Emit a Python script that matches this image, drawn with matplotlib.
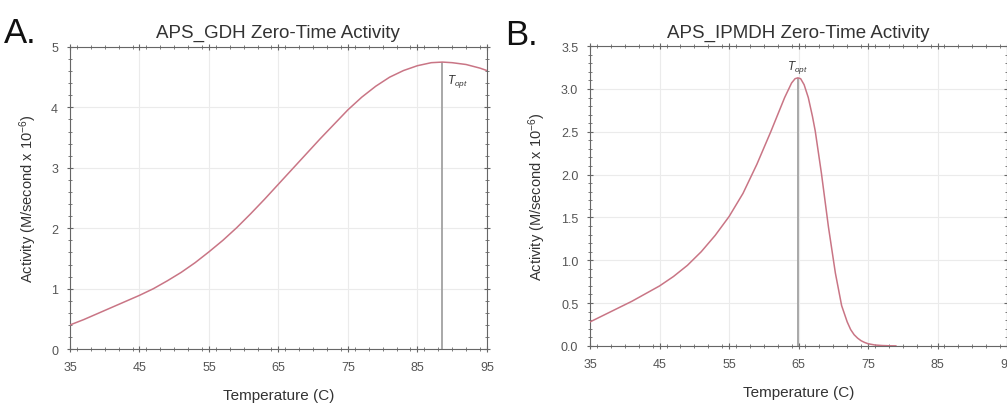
import matplotlib
matplotlib.use("Agg")
import matplotlib.pyplot as plt
from matplotlib.ticker import MultipleLocator

plt.rcParams["font.family"] = ["Liberation Sans", "DejaVu Sans"]
plt.rcParams["mathtext.fontset"] = "custom"
plt.rcParams["mathtext.it"] = "Liberation Sans:italic"
plt.rcParams["mathtext.rm"] = "Liberation Sans"

# values
temp_a = [35, 37, 39, 41, 43, 45, 47, 49, 51, 53, 55, 57, 59, 61, 63, 65, 67, 69,
          71, 73, 75, 77, 79, 81, 83, 85, 87, 88.6, 90, 92, 94, 95]
act_a = [0.40, 0.49, 0.59, 0.69, 0.79, 0.89, 1.00, 1.13, 1.27, 1.43, 1.61, 1.80,
         2.01, 2.24, 2.48, 2.73, 2.98, 3.23, 3.48, 3.72, 3.96, 4.17, 4.35, 4.50,
         4.61, 4.69, 4.74, 4.75, 4.74, 4.71, 4.65, 4.61]
topt_a = 88.6

temp_b = [35, 37, 39, 41, 43, 45, 47, 49, 51, 53, 55, 57, 59, 61, 63, 64, 64.5,
          64.9, 65.3, 65.8, 66.4, 67, 67.4, 68.3, 69.3, 70.3, 71.2, 72, 72.5, 73,
          73.5, 74, 74.5, 75, 76, 77, 78, 79]
act_b = [0.28, 0.36, 0.44, 0.52, 0.61, 0.70, 0.81, 0.94, 1.10, 1.29, 1.51, 1.78,
         2.12, 2.50, 2.90, 3.07, 3.12, 3.13, 3.12, 3.05, 2.90, 2.68, 2.51, 2.01,
         1.39, 0.85, 0.47, 0.28, 0.19, 0.13, 0.09, 0.06, 0.04, 0.025, 0.01, 0.004,
         0.001, 0.0]
topt_b = 64.9

xticks = [35, 45, 55, 65, 75, 85, 95]

curve_col = "#c97585"
line_col = "#a8a8a8"
text_col = "#333333"
spine_col = "#666666"

fig = plt.figure(figsize=(10.07, 4.10), dpi=100)
ax1 = fig.add_axes([0.0695, 0.146, 0.414, 0.737])
ax2 = fig.add_axes([0.586, 0.154, 0.414, 0.731])


def style(ax, ymax, ymajor, yminor, fmt):
    ax.set_xlim(35, 95)
    ax.set_ylim(0, ymax)
    ax.set_xticks(xticks)
    ax.xaxis.set_minor_locator(MultipleLocator(2))
    ax.yaxis.set_major_locator(MultipleLocator(ymajor))
    ax.yaxis.set_minor_locator(MultipleLocator(yminor))
    ax.yaxis.set_major_formatter(fmt)
    ax.grid(True, which="major", color="#ebebeb", linewidth=0.8)
    ax.set_axisbelow(True)
    for s in ax.spines.values():
        s.set_color(spine_col)
        s.set_linewidth(0.8)
    ax.tick_params(which="both", direction="inout", top=True, right=True,
                   colors=spine_col, labelcolor="#555555", labelsize=9)
    ax.tick_params(which="major", length=5, width=0.8, pad=6)
    ax.tick_params(which="minor", length=3, width=0.6)
    ax.set_xlabel("Temperature (C)", fontsize=11, color=text_col, labelpad=11)
    ax.set_ylabel(r"Activity (M/second x 10$^{-6}$)", fontsize=10.5,
                  color=text_col, labelpad=9)


# panel A
ax1.plot(temp_a, act_a, color=curve_col, linewidth=1.1, zorder=3)
ax1.vlines(topt_a, 0, max(act_a), color=line_col, linewidth=1.4, zorder=2)
ax1.text(topt_a + 0.6, 4.40, r"$T_{opt}$", fontsize=8.5, color=text_col)
style(ax1, 5, 1, 0.2, "{x:.0f}")
ax1.set_title("APS_GDH Zero-Time Activity", fontsize=13.5, color=text_col, pad=7)
fig.text(0.004, 0.895, "A.", fontsize=25, color="#111111")

# panel B
ax2.plot(temp_b, act_b, color=curve_col, linewidth=1.1, zorder=3)
ax2.vlines(topt_b, 0, max(act_b), color=line_col, linewidth=1.4, zorder=2)
ax2.text(topt_b, 3.23, r"$T_{opt}$", fontsize=8.5, color=text_col, ha="center")
style(ax2, 3.5, 0.5, 0.1, "{x:.1f}")
ax2.set_title("APS_IPMDH Zero-Time Activity", fontsize=13.5, color=text_col, pad=7)
fig.text(0.502, 0.89, "B.", fontsize=25, color="#111111")

fig.savefig("out.png", dpi=100)
